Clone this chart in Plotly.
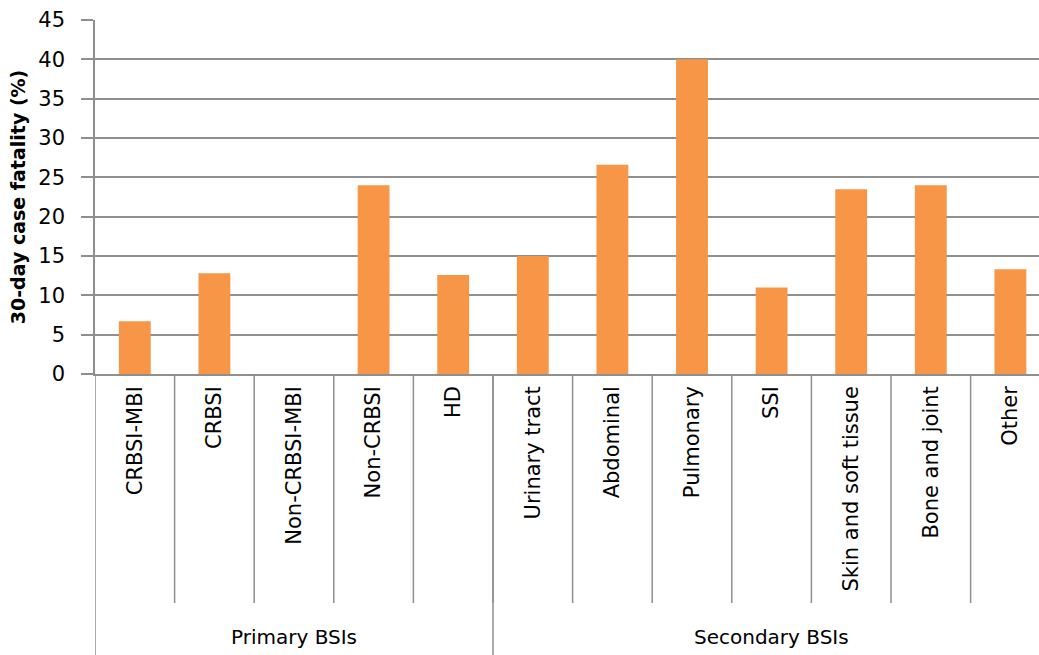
import plotly.graph_objects as go

categories = ["CRBSI-MBI", "CRBSI", "Non-CRBSI-MBI", "Non-CRBSI", "HD",
              "Urinary tract", "Abdominal", "Pulmonary", "SSI",
              "Skin and soft tissue", "Bone and joint", "Other"]
fatality = [6.7, 12.8, 0, 24.0, 12.6, 15.0, 26.6, 40.0, 11.0, 23.5, 24.0, 13.3]
groups = ["Primary BSIs", "Secondary BSIs"]
group_sizes = [5, 7]
y_ticks = [0, 5, 10, 15, 20, 25, 30, 35, 40, 45]

FONT = "DejaVu Sans"
GRID = "#8f8f8f"

fig = go.Figure()
fig.add_trace(go.Bar(x=categories, y=fatality, marker=dict(color="#F79646", line=dict(width=0)),
                     showlegend=False))

# plot area geometry: left 95, top 20, bottom 374
W, H = 1039, 655
L, T, B = 95, 20, 374
plot_h = B - T
cat_w = 79.6
x_max = -0.5 + (W - L) / cat_w

def py(pix):
    return (B - pix) / plot_h

shapes = []
# inner separators between categories
for i in range(1, len(categories)):
    shapes.append(dict(type="line", xref="x", yref="paper", x0=i - 0.5, x1=i - 0.5,
                       y0=0, y1=py(603), line=dict(color=GRID, width=1.5)))
# group separators
edges = [-0.5]
acc = -0.5
for s in group_sizes:
    acc += s
    edges.append(acc)
for e in edges:
    shapes.append(dict(type="line", xref="x", yref="paper", x0=e, x1=e,
                       y0=0, y1=py(W), line=dict(color=GRID, width=1.5)))

annotations = []
start = 0
for g, s in zip(groups, group_sizes):
    center = start + (s - 1) / 2
    annotations.append(dict(text=g, xref="x", yref="paper", x=center, y=py(637),
                            showarrow=False, font=dict(family=FONT, size=20, color="#000000"),
                            xanchor="center", yanchor="middle"))
    start += s

fig.update_layout(
    width=W, height=H,
    margin=dict(l=L, r=0, t=T, b=H - B, pad=0),
    paper_bgcolor="white", plot_bgcolor="white",
    font=dict(family=FONT, size=20, color="#000000"),
    bargap=0.6,
    shapes=shapes,
    annotations=annotations,
    xaxis=dict(type="category", range=[-0.5, x_max], tickangle=-90,
               showgrid=False, showline=True, linecolor=GRID, linewidth=1.5,
               ticks="", ticklabelstandoff=2,
               tickfont=dict(family=FONT, size=21, color="#000000")),
    yaxis=dict(range=[0, 45], tickvals=y_ticks, showgrid=True, gridcolor=GRID, gridwidth=1.5,
               showline=True, linecolor=GRID, linewidth=1.5, ticks="outside", ticklen=12,
               tickcolor=GRID, tickwidth=1.5, zeroline=False, ticklabelstandoff=12,
               tickfont=dict(family=FONT, size=21, color="#000000"),
               title=dict(text="<b>30-day case fatality (%)</b>", standoff=8,
                          font=dict(family=FONT, size=19, color="#000000"))),
)

fig.write_html("out.html")
